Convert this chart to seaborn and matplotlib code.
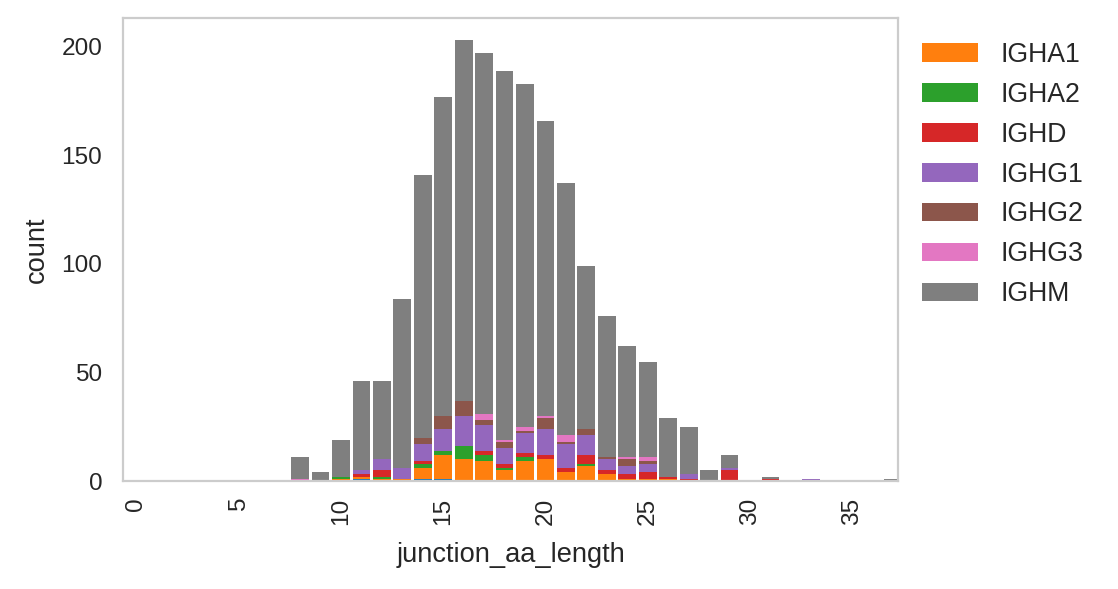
import matplotlib
matplotlib.use("Agg")
import matplotlib.pyplot as plt
from matplotlib.patches import Patch
import numpy as np
import pandas as pd
import seaborn as sns

# junction_aa_length values 8..37
lengths = list(range(8, 38))
other = [0, 0, 0, 1, 0, 0, 1, 1, 0, 0, 0, 0, 0, 0, 0, 0, 0, 0, 0, 0, 0, 0, 0, 0, 0, 0, 0, 0, 0, 0]
IGHA1 = [0, 0, 1, 1, 1, 1, 5, 11, 10, 9, 5, 9, 10, 4, 7, 3, 1, 1, 1, 0, 0, 0, 0, 0, 0, 0, 0, 0, 0, 0]
IGHA2 = [0, 0, 1, 0, 1, 0, 2, 2, 6, 3, 1, 2, 0, 0, 1, 0, 0, 0, 0, 0, 0, 0, 0, 0, 0, 0, 0, 0, 0, 0]
IGHD = [0, 0, 0, 1, 3, 0, 1, 0, 0, 2, 2, 2, 2, 2, 4, 2, 2, 3, 1, 1, 0, 5, 0, 1, 0, 0, 0, 0, 0, 0]
IGHG1 = [0, 0, 0, 2, 5, 5, 8, 10, 14, 12, 7, 9, 12, 11, 9, 5, 4, 4, 0, 2, 0, 1, 0, 0, 0, 1, 0, 0, 0, 0]
IGHG2 = [0, 0, 0, 0, 0, 0, 3, 6, 7, 2, 3, 1, 5, 1, 3, 1, 3, 1, 0, 0, 0, 0, 0, 0, 0, 0, 0, 0, 0, 0]
IGHG3 = [1, 0, 0, 0, 0, 0, 0, 0, 0, 3, 1, 2, 1, 3, 0, 0, 1, 2, 0, 0, 0, 0, 0, 0, 0, 0, 0, 0, 0, 0]
IGHM = [10, 4, 17, 41, 36, 78, 121, 147, 166, 166, 170, 158, 136, 116, 75, 65, 51, 44, 27, 22, 5, 6, 0, 1, 0, 0, 0, 0, 0, 1]

isotypes = ["other", "IGHA1", "IGHA2", "IGHD", "IGHG1", "IGHG2", "IGHG3", "IGHM"]
series = [other, IGHA1, IGHA2, IGHD, IGHG1, IGHG2, IGHG3, IGHM]
colors = ["#1f77b4", "#ff7f0e", "#2ca02c", "#d62728", "#9467bd", "#8c564b", "#e377c2", "#7f7f7f"]
xticks = [0, 5, 10, 15, 20, 25, 30, 35]
yticks = [0, 50, 100, 150, 200]

rows = []
for iso, vals in zip(isotypes, series):
    for L, c in zip(lengths, vals):
        rows.append({"junction_aa_length": L, "isotype": iso, "count": c})
df = pd.DataFrame(rows)

sns.set_style("whitegrid")
plt.rcParams["font.family"] = ["Liberation Sans", "DejaVu Sans"]
plt.rcParams["text.color"] = "#262626"

fig = plt.figure(figsize=(1118 / 200, 589 / 200), dpi=200)
ax = fig.add_axes([123 / 1118, 1 - 481 / 589, (898 - 123) / 1118, (481 - 18) / 589])

palette = dict(zip(isotypes, colors))
sns.histplot(data=df, x="junction_aa_length", weights="count", hue="isotype",
             hue_order=isotypes[::-1], multiple="stack", discrete=True, shrink=0.87,
             palette=palette, alpha=1, linewidth=0, legend=False, ax=ax)

ax.grid(False)
ax.set_xlim(-0.66, 37.24)
ax.set_ylim(0, 213.2)
ax.set_xticks(xticks)
ax.set_yticks(yticks)
ax.tick_params(axis="x", labelrotation=90, labelsize=8.8, pad=2.5, colors="#262626")
ax.tick_params(axis="y", labelsize=8.8, pad=4.0, colors="#262626")
ax.set_xlabel("junction_aa_length", fontsize=9.8, color="#262626", labelpad=6)
ax.set_ylabel("count", fontsize=9.8, color="#262626")
for s in ax.spines.values():
    s.set_color("#cccccc")
    s.set_linewidth(0.8)

handles = [Patch(facecolor=c, edgecolor="none", label=l) for l, c in zip(isotypes[1:], colors[1:])]
ax.legend(handles=handles, loc="upper left", bbox_to_anchor=(1, 1), frameon=False,
          fontsize=9.6, handlelength=2.1, labelspacing=0.52, handletextpad=0.85)

fig.savefig("out.png", dpi=200)
